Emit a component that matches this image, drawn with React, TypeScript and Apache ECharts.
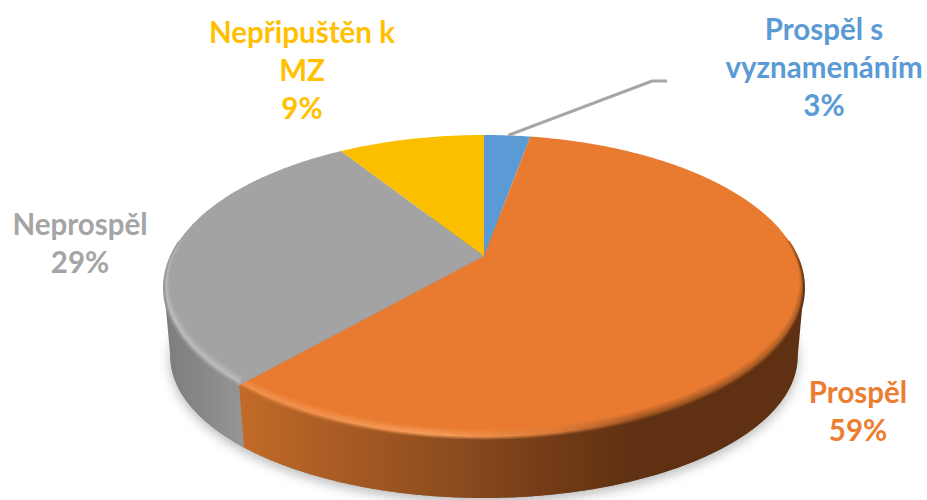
import React, { useEffect, useRef } from "react";
import * as echarts from "echarts";

const categories = ["Prospěl s\nvyznamenáním", "Prospěl", "Neprospěl", "Nepřipuštěn k\nMZ"];
const values = [2.85, 58.65, 29.49, 9.01];
const colors = ["#5B9BD5", "#E97B31", "#A3A3A3", "#FBBF00"];
const labelColors = ["#5B9BD5", "#ED7D31", "#A5A5A5", "#FFC000"];
const labelAnchors = [[824, 9], [858, 372], [80, 204], [302, 12]];

// Perspective model of the tilted disc
const CX = 484, CY = 256, D = 4.85, FX = 1519, FY = 708;
const BOTTOM = { sx: 0.98, sy: 0.93, h: 71 };
const SIL = 101.9; // silhouette angle from the top, degrees

const rad = (a: number) => (a * Math.PI) / 180;
const topPt = (a: number, r = 1) => {
  const s = Math.sin(rad(a)) * r, c = Math.cos(rad(a)) * r;
  const w = D + c;
  return [CX + (FX * s) / w, CY - (FY * c) / w];
};
const botPt = (a: number) => {
  const p = topPt(a);
  return [CX + (p[0] - CX) * BOTTOM.sx, CY + BOTTOM.h + (p[1] - CY) * BOTTOM.sy];
};
const arc = (a0: number, a1: number, f: (a: number) => number[]) => {
  const n = Math.max(2, Math.ceil(Math.abs(a1 - a0) * 1.5));
  const out: number[][] = [];
  for (let i = 0; i <= n; i++) out.push(f(a0 + ((a1 - a0) * i) / n));
  return out;
};

const hex = (c: string) => [1, 3, 5].map((i) => parseInt(c.slice(i, i + 2), 16));
const mix = (a: string, b: string, t: number) => {
  const A = hex(a), B = hex(b);
  const m = A.map((v, i) => Math.round(v + (B[i] - v) * t).toString(16).padStart(2, "0"));
  return "#" + m.join("");
};

const sideStops: Record<number, { x0: number; x1: number; stops: [number, string][] }> = {
  1: {
    x0: 243, x1: 800,
    stops: [[0, "#C26A28"], [0.16, "#AA5C24"], [0.355, "#8F4E1F"], [0.57, "#703A16"], [0.71, "#5F3112"], [1, "#5F3112"]],
  },
  2: { x0: 168, x1: 243, stops: [[0, "#7E7E7E"], [0.35, "#858585"], [1, "#959595"]] },
};
const linear = (x0: number, y0: number, x1: number, y1: number, stops: [number, string][]) => ({
  type: "linear", x: x0, y: y0, x2: x1, y2: y1, global: true,
  colorStops: stops.map(([offset, color]) => ({ offset, color })),
});

// Rims: side colour -> highlight -> flat face colour
const rimOrange = {
  v: [243, 380, 510, 24],
  t: [0, 0.157, 0.325, 0.467, 0.9, 0.955, 1],
  side: ["#C26A28", "#8F4E1F", "#703A16", "#5F3112", "#5F3112", "#7A3F18", "#E97B31"],
  high: ["#F0904C", "#F89E5A", "#D87A38", "#A05522", "#B05F26", "#C56A2A", "#E97B31"],
};
const rimGray = {
  v: [243, 380, 172, 238],
  t: [0, 0.5, 0.92, 1],
  side: ["#959595", "#8E8E8E", "#A0A0A0", "#A3A3A3"],
  high: ["#BBBBBB", "#BDBDBD", "#B8B8B8", "#A3A3A3"],
};
const rimLayers = (rim: typeof rimOrange, a0: number, a1: number, flat: string) => {
  const K = 9, peak = 3;
  const out: any[] = [];
  for (let k = K; k >= 0; k--) {
    const stops = rim.t.map((t, i): [number, string] => {
      const c = k <= peak
        ? mix(rim.side[i], rim.high[i], k / peak)
        : mix(rim.high[i], flat, (k - peak) / (K - peak));
      return [t, c];
    });
    const pts = arc(a0, a1, (a) => {
      const p = topPt(a, 1 - k * 0.0015);
      const lift = Math.min(1, Math.max(0, (-Math.cos(rad(a)) + 0.3) / 0.6));
      return [p[0], p[1] - k * 0.9 * lift + 0.4];
    });
    out.push({
      type: "polyline",
      shape: { points: pts },
      style: { fill: "none", stroke: linear(rim.v[0], rim.v[1], rim.v[2], rim.v[3], stops), lineWidth: 1.8 },
    });
  }
  return out;
};

const renderItem = (params: any, api: any) => {
  const i = params.dataIndex;
  const value = api.value(0);
  const before = values.slice(0, i).reduce((s, v) => s + v, 0);
  const a0 = (before / 100) * 360;
  const a1 = ((before + value) / 100) * 360;
  const children: any[] = [];

  if (i === 0) {
    children.push({
      type: "polygon",
      shape: { points: arc(0, 360, botPt) },
      style: { fill: "#8a8a8a", shadowColor: "rgba(0,0,0,0.28)", shadowBlur: 12, shadowOffsetY: 4, shadowOffsetX: 0 },
    });
  }

  // visible outer wall
  const s0 = Math.max(a0, SIL), s1 = Math.min(a1, 360 - SIL);
  if (s1 > s0 && sideStops[i]) {
    const g = sideStops[i];
    children.push({
      type: "polygon",
      shape: { points: [...arc(s0, s1, topPt), ...arc(s1, s0, botPt)] },
      style: { fill: linear(g.x0, 0, g.x1, 0, g.stops) },
    });
  }

  // top face
  children.push({
    type: "polygon",
    shape: { points: [[CX, CY], ...arc(a0, a1, topPt)] },
    style: { fill: colors[i] },
  });

  if (i === 1) children.push(...rimLayers(rimOrange, 84, a1, colors[1]));
  if (i === 2) children.push(...rimLayers(rimGray as any, a0, 276, colors[2]));

  if (i === 0) {
    const s = topPt((a0 + a1) / 2);
    children.push({
      type: "polyline",
      shape: { points: [[s[0] + 1, s[1]], [652, 81], [667, 81]] },
      style: { fill: "none", stroke: "#A6A6A6", lineWidth: 3 },
      z2: 5,
    });
  }

  children.push({
    type: "text",
    z2: 10,
    style: {
      text: `${categories[i]}\n${Math.round(value)}%`,
      x: labelAnchors[i][0],
      y: labelAnchors[i][1],
      fill: labelColors[i],
      font: "bold 29.5px Lato, sans-serif",
      lineHeight: 38,
      align: "center",
      textAlign: "center",
      verticalAlign: "top",
      textVerticalAlign: "top",
    },
  });
  return { type: "group", children };
};

export default function App() {
  const ref = useRef<HTMLDivElement>(null);
  useEffect(() => {
    const chart = echarts.init(ref.current!, undefined, { renderer: "svg" });
    chart.setOption({
      animation: false,
      backgroundColor: "#ffffff",
      series: [
        {
          type: "custom",
          coordinateSystem: "none",
          silent: true,
          clip: false,
          data: values.map((v, i) => ({ name: categories[i], value: [v] })),
          renderItem,
        },
      ],
    });
    return () => chart.dispose();
  }, []);
  return <div ref={ref} style={{ position: "absolute", left: 0, top: 0, width: 927, height: 500 }} />;
}
